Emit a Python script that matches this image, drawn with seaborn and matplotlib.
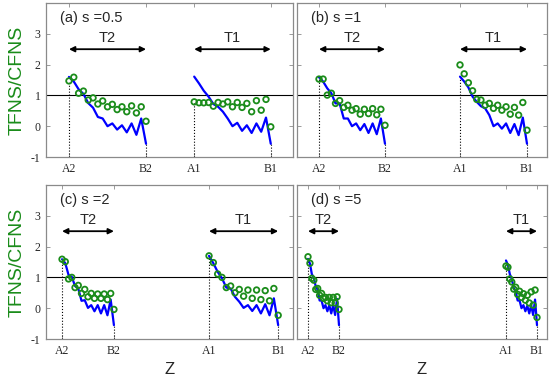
import numpy as np
import pandas as pd
import matplotlib
matplotlib.use("Agg")
import matplotlib.pyplot as plt
import seaborn as sns

# ---------------- data ----------------
panel_titles = ["(a) s =0.5", "(b) s =1", "(c) s =2", "(d) s =5"]
tick_labels = ["A2", "B2", "A1", "B1"]
segment_names = ["T2", "T1"]
y_ticks = [-1, 0, 1, 2, 3]

# Z location of A2, B2, A1, B1 in each panel (fraction of panel width)
a_bounds = [0.093, 0.405, 0.600, 0.910]
b_bounds = [0.088, 0.352, 0.652, 0.920]
c_bounds = [0.065, 0.275, 0.660, 0.940]
d_bounds = [0.044, 0.168, 0.836, 0.960]

a_T2_circ = [1.47, 1.59, 1.07, 1.14, 0.85, 0.92, 0.72, 0.82, 0.63, 0.71, 0.54, 0.63, 0.47, 0.66, 0.43, 0.63, 0.16]
a_T2_line = [1.60, 1.45, 1.20, 1.05, 0.75, 0.60, 0.30, 0.25, 0.00, 0.09, -0.11, 0.03, -0.20, 0.09, -0.28, 0.25, -0.57]
a_T1_circ = [0.79, 0.76, 0.76, 0.77, 0.65, 0.77, 0.72, 0.79, 0.63, 0.77, 0.61, 0.74, 0.47, 0.83, 0.52, 0.87, -0.02]
a_T1_line = [1.61, 1.39, 1.15, 0.96, 0.72, 0.63, 0.47, 0.25, 0.00, 0.11, -0.15, 0.03, -0.22, 0.09, -0.18, 0.28, -0.57]

b_T2_circ = [1.53, 1.53, 1.01, 1.07, 0.74, 0.83, 0.61, 0.68, 0.52, 0.57, 0.39, 0.55, 0.41, 0.57, 0.37, 0.55, 0.03]
b_T2_line = [1.59, 1.45, 1.23, 1.07, 0.74, 0.74, 0.25, 0.25, 0.00, 0.09, -0.13, 0.07, -0.22, 0.09, -0.26, 0.25, -0.57]
b_T1_circ = [1.99, 1.70, 1.41, 1.15, 0.87, 0.85, 0.68, 0.74, 0.58, 0.68, 0.52, 0.63, 0.39, 0.61, 0.36, 0.77, -0.13]
b_T1_line = [1.61, 1.45, 1.26, 0.96, 0.79, 0.65, 0.58, 0.36, 0.00, 0.09, -0.08, 0.09, -0.22, 0.07, -0.29, 0.28, -0.57]

c_T2_circ = [1.59, 1.51, 0.95, 1.00, 0.67, 0.74, 0.48, 0.61, 0.37, 0.48, 0.32, 0.46, 0.32, 0.46, 0.28, 0.48, -0.04]
c_T2_line = [1.59, 1.46, 1.08, 1.02, 0.72, 0.64, 0.24, 0.26, 0.01, 0.10, -0.10, 0.10, -0.17, 0.10, -0.23, 0.28, -0.55]
c_T1_circ = [1.70, 1.48, 1.11, 1.00, 0.67, 0.72, 0.50, 0.61, 0.39, 0.59, 0.32, 0.59, 0.28, 0.57, 0.24, 0.64, -0.23]
c_T1_line = [1.70, 1.46, 1.18, 0.97, 0.67, 0.64, 0.37, 0.21, 0.01, 0.10, -0.09, 0.10, -0.17, 0.13, -0.23, 0.32, -0.55]

d_T2_circ = [1.67, 1.46, 0.97, 0.91, 0.61, 0.64, 0.42, 0.48, 0.32, 0.35, 0.24, 0.35, 0.18, 0.35, 0.17, 0.37, -0.04]
d_T2_line = [1.60, 1.45, 1.10, 1.00, 0.70, 0.60, 0.25, 0.25, 0.00, 0.10, -0.10, 0.10, -0.17, 0.10, -0.22, 0.30, -0.55]
d_T1_circ = [1.37, 1.33, 0.95, 0.85, 0.62, 0.68, 0.45, 0.55, 0.35, 0.47, 0.26, 0.42, 0.17, 0.53, 0.10, 0.59, -0.30]
d_T1_line = [1.55, 1.40, 1.10, 0.95, 0.65, 0.55, 0.25, 0.25, 0.00, 0.10, -0.10, 0.08, -0.17, 0.10, -0.22, 0.28, -0.55]

panels = [
    (a_bounds, [(a_T2_circ, a_T2_line), (a_T1_circ, a_T1_line)]),
    (b_bounds, [(b_T2_circ, b_T2_line), (b_T1_circ, b_T1_line)]),
    (c_bounds, [(c_T2_circ, c_T2_line), (c_T1_circ, c_T1_line)]),
    (d_bounds, [(d_T2_circ, d_T2_line), (d_T1_circ, d_T1_line)]),
]

# ---------------- style ----------------
sns.set_theme(style="white")
plt.rcParams["font.family"] = ["Liberation Sans", "DejaVu Sans"]
GREEN = "#1a8c1a"
BLUE = "#0000ff"
SPINE = "#8a8a8a"
serif = ["Liberation Serif", "DejaVu Serif"]

W, H = 550, 384
fig = plt.figure(figsize=(5.5, 3.84), dpi=100)

# axes rectangles in pixels: left, top, right, bottom
rects = [(46, 3, 293, 157), (297, 3, 547, 157), (46, 185, 293, 339), (297, 185, 547, 339)]

for i, ((bounds, segs), (l, t, r, b)) in enumerate(zip(panels, rects)):
    ax = fig.add_axes([l / W, 1 - b / H, (r - l) / W, (b - t) / H])
    rows = []
    for s_idx, (circ, line) in enumerate(segs):
        A, B = bounds[2 * s_idx], bounds[2 * s_idx + 1]
        z = np.linspace(A, B, len(circ))
        for zz, cc, ll in zip(z, circ, line):
            rows.append(dict(segment=segment_names[s_idx], z=zz, circ=cc, line=ll))
    df = pd.DataFrame(rows)

    ax.axhline(1, color="black", lw=0.8, zorder=1)

    # dotted guides at segment ends
    for s_idx, seg in enumerate(segment_names):
        sub = df[df.segment == seg]
        first, last = sub.iloc[0], sub.iloc[-1]
        for row in (first, last):
            top = min(row.circ, row.line)
            ax.plot([row.z, row.z], [-1, top], ls=":", color="black", lw=0.8, zorder=1)

    sns.lineplot(data=df, x="z", y="line", units="segment", estimator=None,
                 color=BLUE, lw=1.6, ax=ax, zorder=2, sort=False)
    sns.scatterplot(data=df, x="z", y="circ", marker="o", s=16,
                    facecolors="none", edgecolor=GREEN, linewidth=1.3, ax=ax, zorder=3)

    # arrows with labels
    for s_idx, seg in enumerate(segment_names):
        A, B = bounds[2 * s_idx], bounds[2 * s_idx + 1]
        ax.annotate("", xy=(B, 2.5), xytext=(A, 2.5),
                    arrowprops=dict(arrowstyle="<|-|>", color="black", lw=1.3,
                                    mutation_scale=8, shrinkA=0, shrinkB=0))
        ax.text((A + B) / 2, 2.85, seg, ha="center", va="center", fontsize=10.5)

    ax.text(0.057, 0.905, panel_titles[i], transform=ax.transAxes,
            ha="left", va="center", fontsize=10.5)

    ax.set_xlim(0, 1)
    ax.set_ylim(-1, 4)
    ax.set_xticks(bounds)
    ax.set_xticklabels(tick_labels, family=serif, fontsize=8.5)
    ax.set_yticks(y_ticks)
    if i in (0, 2):
        ax.set_yticklabels([str(v) for v in y_ticks], family=serif, fontsize=8.5)
    else:
        ax.set_yticklabels([])
    ax.set_xlabel("")
    ax.set_ylabel("")
    ax.tick_params(direction="in", length=3, width=0.6, color=SPINE,
                   top=True, right=True, bottom=True, left=True, pad=4)
    for sp in ax.spines.values():
        sp.set_color(SPINE)
        sp.set_linewidth(0.9)
        sp.set_visible(True)

# shared labels
for yc in ((3 + 157) / 2, (185 + 339) / 2):
    fig.text(17 / W, 1 - yc / H, "TFNS/CFNS", rotation=90, ha="center", va="center",
             color=GREEN, fontsize=14)
for xc in ((46 + 293) / 2, (297 + 547) / 2):
    fig.text(xc / W, 1 - 370 / H, "Z", ha="center", va="center", fontsize=12)

fig.savefig("out.png", dpi=100)
